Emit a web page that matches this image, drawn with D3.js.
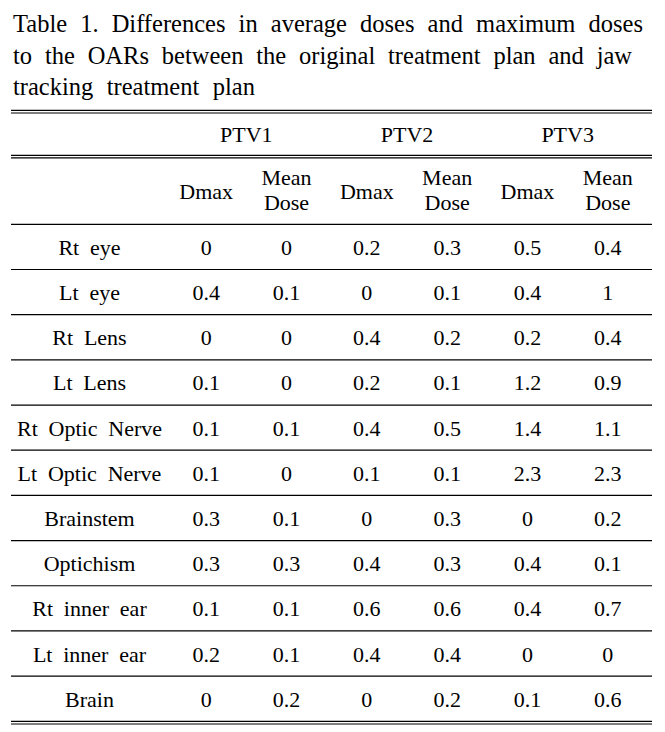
<!DOCTYPE html>
<html>
<head>
<meta charset="utf-8">
<script src="https://cdn.jsdelivr.net/npm/d3@7"></script>
<style>
  html, body { margin: 0; padding: 0; background: #fff; }
  svg { display: block; }
  svg text { font-family: "Liberation Serif", "Times New Roman", Times, serif; fill: #000; }
</style>
</head>
<body>
<svg id="chart" width="665" height="732" font-family="Liberation Serif, Times New Roman, serif"></svg>
<script>
// ---- data ----
const titleLines = [
  "Table 1. Differences in average doses and maximum doses",
  "to the OARs between the original treatment plan and jaw",
  "tracking treatment plan"
];
const organs = ["Rt eye", "Lt eye", "Rt Lens", "Lt Lens", "Rt Optic Nerve", "Lt Optic Nerve",
                "Brainstem", "Optichism", "Rt inner ear", "Lt inner ear", "Brain"];
const ptvs = ["PTV1", "PTV2", "PTV3"];
const metrics = ["Dmax", "Mean Dose"];
const ptv1Dmax = [0, 0.4, 0, 0.1, 0.1, 0.1, 0.3, 0.3, 0.1, 0.2, 0];
const ptv1Mean = [0, 0.1, 0, 0, 0.1, 0, 0.1, 0.3, 0.1, 0.1, 0.2];
const ptv2Dmax = [0.2, 0, 0.4, 0.2, 0.4, 0.1, 0, 0.4, 0.6, 0.4, 0];
const ptv2Mean = [0.3, 0.1, 0.2, 0.1, 0.5, 0.1, 0.3, 0.3, 0.6, 0.4, 0.2];
const ptv3Dmax = [0.5, 0.4, 0.2, 1.2, 1.4, 2.3, 0, 0.4, 0.4, 0, 0.1];
const ptv3Mean = [0.4, 1, 0.4, 0.9, 1.1, 2.3, 0.2, 0.1, 0.7, 0, 0.6];

const columns = [
  { ptv: "PTV1", metric: "Dmax", values: ptv1Dmax },
  { ptv: "PTV1", metric: "Mean Dose", values: ptv1Mean },
  { ptv: "PTV2", metric: "Dmax", values: ptv2Dmax },
  { ptv: "PTV2", metric: "Mean Dose", values: ptv2Mean },
  { ptv: "PTV3", metric: "Dmax", values: ptv3Dmax },
  { ptv: "PTV3", metric: "Mean Dose", values: ptv3Mean }
];
columns.forEach(c => c.key = c.ptv + "|" + c.metric);

// ---- layout ----
const FONT = "'Liberation Serif', 'Times New Roman', serif";
const svg = d3.select("#chart");
const tableX0 = 11, tableX1 = 652;
const fs = 22;

const txt = (sel) => sel.append("text").attr("font-family", FONT).attr("fill", "#000");

// title, justified word placement
const titleSpans = [[13, 643], [13, 632], [13, 255]];
const titleBase = [32, 63.5, 95];
const tg = svg.append("g");
titleLines.forEach((line, li) => {
  const words = line.split(" ");
  const tmp = tg.selectAll(null).data(words).enter().append("text")
    .attr("font-family", FONT)
    .attr("font-size", 24.5)
    .attr("y", titleBase[li])
    .text(d => d);
  const widths = [];
  tmp.each(function () { widths.push(this.getComputedTextLength()); });
  const total = d3.sum(widths);
  const [a, b] = titleSpans[li];
  const gap = (b - a - total) / (words.length - 1);
  let x = a;
  tmp.each(function (d, i) { d3.select(this).attr("x", x); x += widths[i] + gap; });
});

// scales
const x = d3.scaleBand().domain(columns.map(c => c.key)).range([166, 648]);
const xc = k => x(k) + x.bandwidth() / 2;
const labelX = 89.5;
const y = d3.scaleBand().domain(organs).range([224.3, 721.3]);
const yc = o => y(o) + y.bandwidth() / 2;

// rules
const lines = svg.append("g").attr("stroke", "#000").attr("stroke-width", 1.2);
const hl = yy => lines.append("line").attr("x1", tableX0).attr("x2", tableX1).attr("y1", yy).attr("y2", yy);
hl(110.4); hl(113);
hl(155.3); hl(157.9);
hl(224.3);
organs.forEach((o, i) => { if (i < organs.length - 1) hl(y(o) + y.bandwidth()); });
hl(721.3); hl(724);

// PTV headers
svg.append("g").selectAll("text").data(ptvs).enter().append("text")
  .attr("font-family", FONT)
  .attr("font-size", fs).attr("text-anchor", "middle")
  .attr("x", p => (xc(p + "|Dmax") + xc(p + "|Mean Dose")) / 2)
  .attr("y", 141.7)
  .text(p => p);

// metric sub-headers
const sub = svg.append("g");
columns.forEach(c => {
  if (c.metric === "Dmax") {
    txt(sub).attr("font-size", fs).attr("text-anchor", "middle")
      .attr("x", xc(c.key)).attr("y", 198.5).text("Dmax");
  } else {
    const parts = c.metric.split(" ");
    txt(sub).attr("font-size", fs).attr("text-anchor", "middle")
      .attr("x", xc(c.key)).attr("y", 185).text(parts[0]);
    txt(sub).attr("font-size", fs).attr("text-anchor", "middle")
      .attr("x", xc(c.key)).attr("y", 209.6).text(parts[1]);
  }
});

// row labels
svg.append("g").selectAll("text").data(organs).enter().append("text")
  .attr("font-family", FONT)
  .attr("font-size", fs).attr("text-anchor", "middle")
  .attr("word-spacing", 5.3)
  .attr("x", labelX).attr("y", o => yc(o) + 8)
  .text(o => o);

// cell values
const cells = svg.append("g");
columns.forEach(c => {
  cells.selectAll(null).data(c.values).enter().append("text")
    .attr("font-family", FONT)
    .attr("font-size", fs).attr("text-anchor", "middle")
    .attr("x", xc(c.key))
    .attr("y", (v, i) => yc(organs[i]) + 8)
    .text(v => String(v));
});
</script>
</body>
</html>
